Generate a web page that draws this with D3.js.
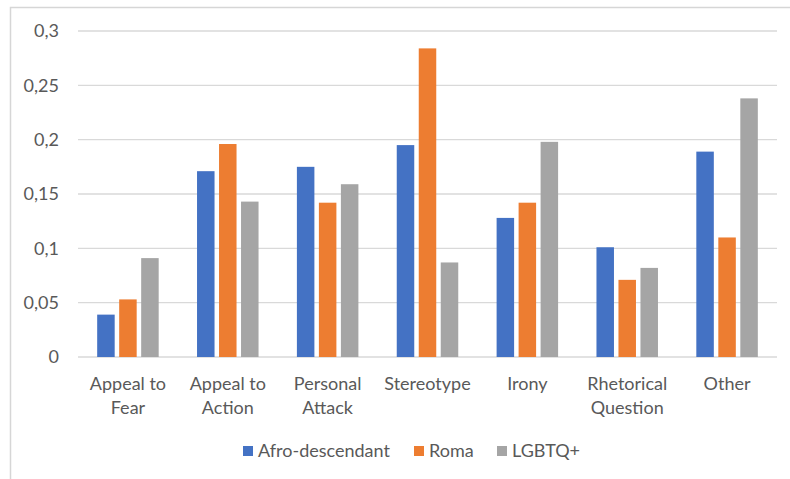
<!DOCTYPE html>
<html>
<head>
<meta charset="utf-8">
<script src="https://cdn.jsdelivr.net/npm/d3@7"></script>
<style>
  html, body { margin: 0; padding: 0; background: #fff; }
  svg { display: block; }
  text { font-family: Lato, "Open Sans", sans-serif; fill: #595959; }
</style>
</head>
<body>
<svg id="chart" width="790" height="479"></svg>
<script>
// Persuasion-technique shares per target group
const categories = [["Appeal to", "Fear"], ["Appeal to", "Action"], ["Personal", "Attack"], ["Stereotype"], ["Irony"], ["Rhetorical", "Question"], ["Other"]];
const seriesNames = ["Afro-descendant", "Roma", "LGBTQ+"];
const seriesColors = ["#4472c4", "#ed7d31", "#a5a5a5"];
const afroValues = [0.039, 0.171, 0.175, 0.195, 0.128, 0.101, 0.189];
const romaValues = [0.053, 0.196, 0.142, 0.284, 0.142, 0.071, 0.110];
const lgbtqValues = [0.091, 0.143, 0.159, 0.087, 0.198, 0.082, 0.238];
const yTicks = [0, 0.05, 0.1, 0.15, 0.2, 0.25, 0.3];
const yTickLabels = ["0", "0,05", "0,1", "0,15", "0,2", "0,25", "0,3"];

const series = [afroValues, romaValues, lgbtqValues];
const svg = d3.select("#chart");
const fontSize = "18px";

// outer frame
svg.append("path")
  .attr("d", "M10.5,479 L10.5,7.5 L790,7.5")
  .attr("fill", "none").attr("stroke", "#d6d6d6").attr("stroke-width", 1.5);

const plotLeft = 78, plotRight = 777, plotTop = 31, plotBottom = 357;
const x = d3.scaleBand().domain(d3.range(categories.length)).range([plotLeft, plotRight]);
const y = d3.scaleLinear().domain([0, 0.3]).range([plotBottom, plotTop]);

// gridlines
svg.append("g").selectAll("line").data(yTicks).join("line")
  .attr("x1", plotLeft).attr("x2", plotRight)
  .attr("y1", d => y(d)).attr("y2", d => y(d))
  .attr("stroke", "#d9d9d9").attr("stroke-width", 1.3);

// y tick labels
svg.append("g").selectAll("text").data(yTicks).join("text")
  .attr("x", 59).attr("y", d => y(d))
  .attr("dy", "0.35em").attr("text-anchor", "end")
  .style("font-size", fontSize)
  .text((d, i) => yTickLabels[i]);

// bars
const barStep = 22, barWidth = 17.5;
const groups = svg.append("g").selectAll("g").data(series).join("g")
  .attr("fill", (d, i) => seriesColors[i]);
groups.each(function (vals, si) {
  d3.select(this).selectAll("rect").data(vals).join("rect")
    .attr("x", (v, ci) => x(ci) + x.bandwidth() / 2 + (si - 1) * barStep - barWidth / 2)
    .attr("width", barWidth)
    .attr("y", v => y(v))
    .attr("height", v => y(0) - y(v));
});

// category labels
const catG = svg.append("g").selectAll("text").data(categories).join("text")
  .attr("text-anchor", "middle")
  .style("font-size", fontSize)
  .attr("transform", (d, i) => `translate(${x(i) + x.bandwidth() / 2},0)`);
catG.selectAll("tspan").data(d => d).join("tspan")
  .attr("x", 0).attr("y", (d, i) => 389.5 + i * 24)
  .text(d => d);

// legend
const legendX = [243, 414, 497];
const leg = svg.append("g").selectAll("g").data(seriesNames).join("g")
  .attr("transform", (d, i) => `translate(${legendX[i]},451)`);
leg.append("rect").attr("x", 0).attr("y", -5).attr("width", 10).attr("height", 10)
  .attr("fill", (d, i) => seriesColors[i]);
leg.append("text").attr("x", 15).attr("dy", "0.35em")
  .style("font-size", fontSize).text(d => d);
</script>
</body>
</html>
